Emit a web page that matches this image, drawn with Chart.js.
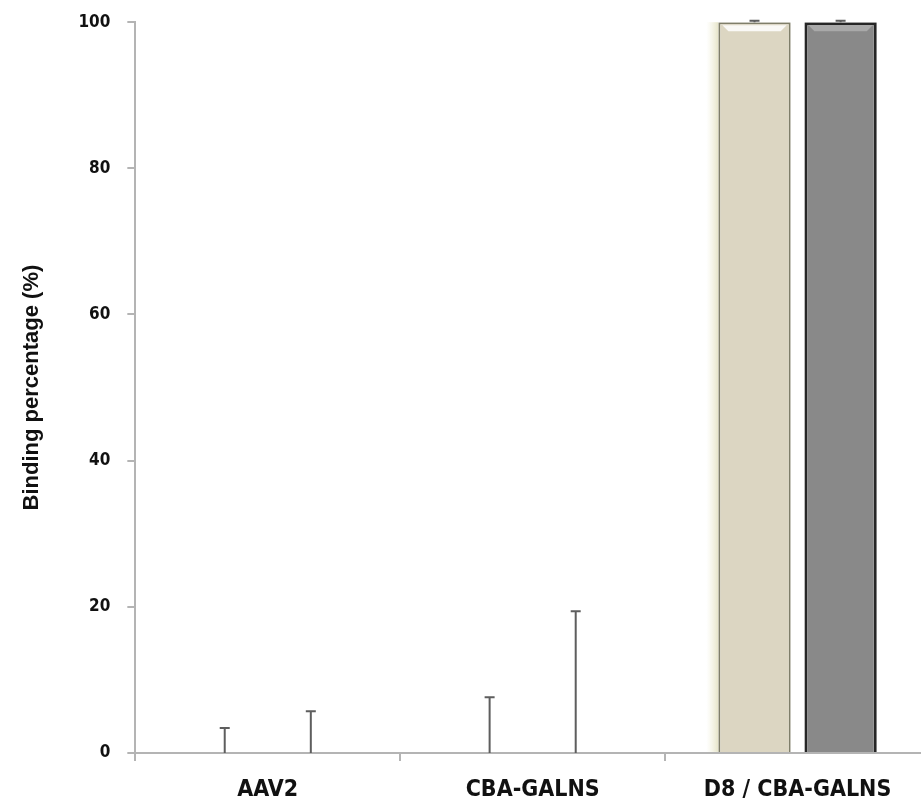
<!DOCTYPE html>
<html>
<head>
<meta charset="utf-8">
<script src="https://cdn.jsdelivr.net/npm/chart.js@4"></script>
<style>
    html, body { margin: 0; padding: 0; background: #fff; overflow: hidden; }
    #wrap { width: 930px; height: 809px; overflow: hidden; }
    #bindingChart { display: block; margin-top: -5px; }
</style>
</head>
<body>
<div id="wrap"><canvas id="bindingChart" width="930" height="820"></canvas></div>
<script>
const categories = ['AAV2', 'CBA-GALNS', 'D8 / CBA-GALNS'];
const lightValues = [0, 0, 100];
const lightErrors = [3.4, 7.6, 0.2];
const darkValues = [0, 0, 100];
const darkErrors = [5.7, 19.4, 0.2];
const yTicks = [0, 20, 40, 60, 80, 100];

const axisColor = '#b4b4b4';
const narrowFont = "'DejaVu Sans Condensed', 'Liberation Sans', Arial, sans-serif";

// error bars drawn on top of each bar, upper side only
const errorBars = {
    id: 'errorBars',
    afterDatasetsDraw(chart) {
        const ctx = chart.ctx;
        const yScale = chart.scales.y;
        chart.data.datasets.forEach((ds, i) => {
            const meta = chart.getDatasetMeta(i);
            meta.data.forEach((bar, j) => {
                const top = yScale.getPixelForValue(ds.data[j] + ds.errors[j]);
                ctx.save();
                ctx.strokeStyle = '#5e5e5e';
                ctx.lineWidth = 2;
                ctx.beginPath();
                ctx.moveTo(bar.x, bar.y);
                ctx.lineTo(bar.x, top);
                ctx.moveTo(bar.x - 5, top);
                ctx.lineTo(bar.x + 5, top);
                ctx.stroke();
                ctx.restore();
            });
        });
    }
};

// soft glow left of the light bars and a bevel highlight at the top of each bar
const barShading = {
    id: 'barShading',
    beforeDatasetsDraw(chart) {
        const ctx = chart.ctx;
        chart.getDatasetMeta(0).data.forEach(bar => {
            const h = bar.base - bar.y;
            if (h <= 0) return;
            const left = bar.x - bar.width / 2;
            const grad = ctx.createLinearGradient(left - 12, 0, left, 0);
            grad.addColorStop(0, 'rgba(238, 236, 210, 0)');
            grad.addColorStop(1, 'rgba(228, 226, 195, 0.9)');
            ctx.save();
            ctx.fillStyle = grad;
            ctx.fillRect(left - 12, bar.y, 12, h);
            ctx.restore();
        });
    },
    afterDatasetsDraw(chart) {
        const ctx = chart.ctx;
        const tints = ['rgba(255, 255, 255, 0.85)', 'rgba(190, 190, 190, 0.6)'];
        chart.data.datasets.forEach((ds, i) => {
            chart.getDatasetMeta(i).data.forEach(bar => {
                if (bar.base - bar.y <= 0) return;
                const left = bar.x - bar.width / 2;
                const right = bar.x + bar.width / 2;
                ctx.save();
                ctx.fillStyle = tints[i];
                ctx.beginPath();
                ctx.moveTo(left + 4, bar.y + 3);
                ctx.lineTo(right - 4, bar.y + 3);
                ctx.lineTo(right - 10, bar.y + 9);
                ctx.lineTo(left + 10, bar.y + 9);
                ctx.closePath();
                ctx.fill();
                ctx.restore();
            });
        });
    }
};

new Chart(document.getElementById('bindingChart').getContext('2d'), {
    type: 'bar',
    data: {
        labels: categories,
        datasets: [
            {
                data: lightValues,
                errors: lightErrors,
                backgroundColor: '#dcd6c2',
                borderColor: '#7f7e69',
                borderWidth: 2,
                categoryPercentage: 0.65,
                barPercentage: 0.84
            },
            {
                data: darkValues,
                errors: darkErrors,
                backgroundColor: '#898989',
                borderColor: '#262626',
                borderWidth: 3,
                categoryPercentage: 0.65,
                barPercentage: 0.84
            }
        ]
    },
    options: {
        responsive: false,
        animation: false,
        layout: { autoPadding: false, padding: { top: 17, left: 19, right: 0, bottom: -4 } },
        plugins: {
            legend: { display: false },
            tooltip: { enabled: false }
        },
        scales: {
            x: {
                grid: {
                    drawOnChartArea: false,
                    color: axisColor,
                    lineWidth: 2,
                    tickLength: 8
                },
                border: { color: axisColor, width: 2 },
                ticks: {
                    color: '#111',
                    padding: 21,
                    font: { family: narrowFont, size: 23, weight: 'bold', lineHeight: 0.7 }
                }
            },
            y: {
                min: 0,
                max: 100,
                afterBuildTicks(scale) {
                    scale.ticks = yTicks.map(v => ({ value: v }));
                },
                grid: {
                    drawOnChartArea: false,
                    color: axisColor,
                    lineWidth: 2,
                    tickLength: 8
                },
                border: { color: axisColor, width: 2 },
                ticks: {
                    color: '#111',
                    padding: 17,
                    font: { family: narrowFont, size: 17, weight: 'bold' }
                },
                title: {
                    display: true,
                    text: 'Binding percentage (%)',
                    color: '#111',
                    padding: { top: 0, bottom: 16 },
                    font: { family: "'Liberation Sans', Arial, sans-serif", size: 22, weight: 'bold', lineHeight: 1.2 }
                }
            }
        }
    },
    plugins: [barShading, errorBars]
});
</script>
</body>
</html>
